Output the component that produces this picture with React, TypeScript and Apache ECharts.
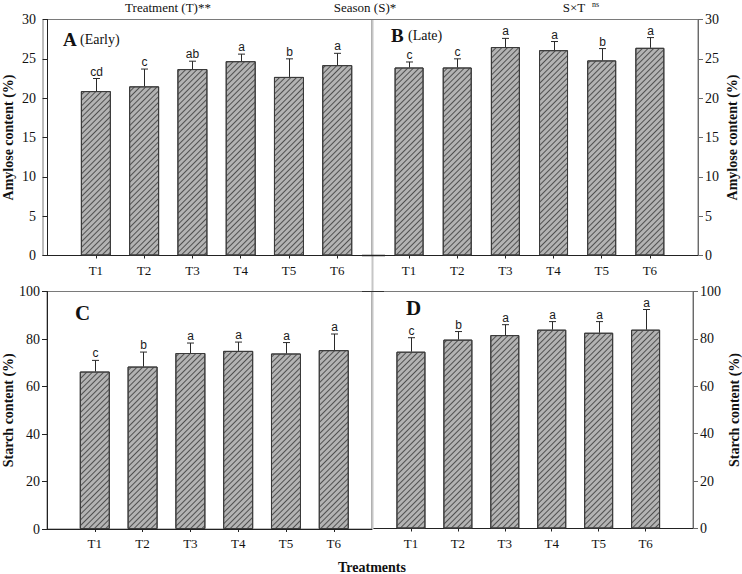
import React, { useEffect, useRef } from "react";
import * as echarts from "echarts";

const categories = ["T1", "T2", "T3", "T4", "T5", "T6"];
const xPos = [1, 2, 3, 4, 5, 6];

// Amylose content (%) – Early season (A)
const amyloseEarly = [20.9, 21.5, 23.7, 24.7, 22.7, 24.2];
const amyloseEarlySd = [1.6, 2.2, 1.0, 0.9, 2.3, 1.5];
const amyloseEarlyLetters = ["cd", "c", "ab", "a", "b", "a"];

// Amylose content (%) – Late season (B)
const amyloseLate = [23.9, 23.9, 26.5, 26.1, 24.8, 26.4];
const amyloseLateSd = [0.7, 1.1, 1.1, 1.1, 1.5, 1.3];
const amyloseLateLetters = ["c", "c", "a", "a", "b", "a"];

// Starch content (%) – Early season (C)
const starchEarly = [66.3, 68.4, 74.1, 75.0, 73.9, 75.3];
const starchEarlySd = [4.7, 6.1, 4.2, 3.7, 4.6, 6.8];
const starchEarlyLetters = ["c", "b", "a", "a", "a", "a"];

// Starch content (%) – Late season (D)
const starchLate = [74.6, 79.7, 81.6, 83.9, 82.6, 83.9];
const starchLateSd = [5.9, 3.4, 4.4, 3.4, 4.7, 8.5];
const starchLateLetters = ["c", "b", "a", "a", "a", "a"];

const amyloseTicks = [0, 30, 5];
const starchTicks = [0, 100, 20];

const SERIF = "'Liberation Serif', 'Times New Roman', serif";
const SANS = "'Liberation Sans', Arial, sans-serif";

export default function App() {
  const ref = useRef<HTMLDivElement>(null);

  useEffect(() => {
    if (!ref.current) return;
    const chart = echarts.init(ref.current, undefined, { renderer: "svg" });

    const panels = [
      { grid: { left: 42, top: 19.5, width: 330, height: 236 }, xmin: -0.095, xmax: 6.72, pos: "left", ticks: amyloseTicks, name: "Amylose content (%)", nameGap: 28, means: amyloseEarly, sd: amyloseEarlySd, letters: amyloseEarlyLetters, barWidth: 30 },
      { grid: { left: 372, top: 19.5, width: 326, height: 236 }, xmin: 0.23, xmax: 7.0, pos: "right", ticks: amyloseTicks, name: "Amylose content (%)", nameGap: 27, means: amyloseLate, sd: amyloseLateSd, letters: amyloseLateLetters, barWidth: 29 },
      { grid: { left: 40, top: 291.5, width: 332, height: 237.5 }, xmin: 0, xmax: 6.8, pos: "left", ticks: starchTicks, name: "Starch content (%)", nameGap: 32, means: starchEarly, sd: starchEarlySd, letters: starchEarlyLetters, barWidth: 30 },
      { grid: { left: 372, top: 291.5, width: 331, height: 237 }, xmin: 0.17, xmax: 7.01, pos: "right", ticks: starchTicks, name: "Starch content (%)", nameGap: 34, means: starchLate, sd: starchLateSd, letters: starchLateLetters, barWidth: 29 },
    ];

    const grids = panels.map((p) => ({
      ...p.grid,
      show: true,
      borderColor: "#7a7a7a",
      borderWidth: 1,
      backgroundColor: "transparent",
      containLabel: false,
    }));

    const xAxes = panels.map((p, i) => ({
      type: "value",
      gridIndex: i,
      min: p.xmin,
      max: p.xmax,
      axisLine: { show: true, onZero: false, lineStyle: { color: "#222", width: 1 } },
      axisTick: { show: true, customValues: xPos, length: 3, lineStyle: { color: "#222" } },
      axisLabel: {
        customValues: xPos,
        formatter: (v: number) => categories[Math.round(v) - 1] ?? "",
        color: "#111",
        fontFamily: SERIF,
        fontSize: 13,
        margin: 8,
      },
      splitLine: { show: false },
    }));

    const yAxes = panels.map((p, i) => ({
      type: "value",
      gridIndex: i,
      position: p.pos,
      min: p.ticks[0],
      max: p.ticks[1],
      interval: p.ticks[2],
      axisLine: { show: true, lineStyle: { color: p.pos === "left" ? "#222" : "#6a6a6a", width: 1 } },
      axisTick: { show: true, length: 5, lineStyle: { color: p.pos === "left" ? "#222" : "#6a6a6a" } },
      axisLabel: { color: "#111", fontFamily: SERIF, fontSize: 14, margin: 7 },
      splitLine: { show: false },
      name: p.name,
      nameLocation: "middle",
      nameGap: p.nameGap,
      nameRotate: 90,
      nameTextStyle: { fontFamily: SERIF, fontWeight: "bold", fontSize: 14, color: "#111" },
    }));

    const series: any[] = [];
    panels.forEach((p, i) => {
      series.push({
        type: "bar",
        xAxisIndex: i,
        yAxisIndex: i,
        barWidth: p.barWidth,
        data: p.means.map((m, k) => [xPos[k], m]),
        itemStyle: {
          color: "#b3b3b3",
          borderColor: "#3a3a3a",
          borderWidth: 1,
          decal: {
            symbol: "rect",
            symbolSize: 1,
            dashArrayX: [1, 0],
            dashArrayY: [0.9, 2.1],
            rotation: -Math.PI / 4,
            color: "#505050",
          },
        },
        z: 2,
      });
      const letters = p.letters;
      series.push({
        type: "custom",
        xAxisIndex: i,
        yAxisIndex: i,
        z: 5,
        data: p.means.map((m, k) => [xPos[k], m, m + p.sd[k]]),
        renderItem: (params: any, api: any) => {
          const x = api.value(0);
          const m = api.value(1);
          const t = api.value(2);
          const p0 = api.coord([x, m]);
          const p1 = api.coord([x, t]);
          const cx = Math.round(p0[0]) + 0.5;
          return {
            type: "group",
            children: [
              { type: "line", shape: { x1: cx, y1: p0[1], x2: cx, y2: p1[1] }, style: { stroke: "#2a2a2a", lineWidth: 1 } },
              { type: "line", shape: { x1: cx - 3.5, y1: p1[1], x2: cx + 3.5, y2: p1[1] }, style: { stroke: "#2a2a2a", lineWidth: 1 } },
              {
                type: "text",
                x: cx,
                y: p1[1] - 1,
                style: {
                  text: letters[params.dataIndex],
                  fill: "#1a1a1a",
                  font: `12px ${SANS}`,
                  textAlign: "center",
                  textVerticalAlign: "bottom",
                  align: "center",
                  verticalAlign: "bottom",
                },
              },
            ],
          };
        },
      });
    });

    const txt = (text: string, x: number, y: number, size: number, opts: any = {}) => ({
      type: "text",
      x,
      y,
      z: 50,
      style: {
        text,
        fill: "#111",
        font: `${opts.bold ? "bold " : ""}${size}px ${SERIF}`,
        textAlign: opts.align ?? "left",
        textVerticalAlign: "middle",
        align: opts.align ?? "left",
        verticalAlign: "middle",
      },
    });

    const graphic: any[] = [
      { type: "line", z: 40, shape: { x1: 372.5, y1: 20, x2: 372.5, y2: 529 }, style: { stroke: "#c6c6c6", lineWidth: 2 } },
      { type: "line", z: 41, shape: { x1: 362, y1: 291.5, x2: 384, y2: 291.5 }, style: { stroke: "#333", lineWidth: 1 } },
      { type: "line", z: 41, shape: { x1: 362, y1: 255.5, x2: 385, y2: 255.5 }, style: { stroke: "#222", lineWidth: 1.5 } },
      txt("Treatment (T)**", 168, 7, 13, { align: "center" }),
      txt("Season (S)*", 365, 7, 13, { align: "center" }),
      txt("S×T", 574, 7, 13, { align: "center" }),
      txt("ns", 592, 4, 8, { align: "left" }),
      txt("A", 63, 39, 19, { bold: true }),
      txt("(Early)", 80, 39, 14),
      txt("B", 391, 35, 19, { bold: true }),
      txt("(Late)", 408, 35, 14),
      txt("C", 75, 313, 21, { bold: true }),
      txt("D", 406, 308, 21, { bold: true }),
      txt("Treatments", 372, 567, 14, { bold: true, align: "center" }),
    ];

    chart.setOption({
      animation: false,
      backgroundColor: "#ffffff",
      aria: { enabled: true, decal: { show: true } },
      grid: grids,
      xAxis: xAxes,
      yAxis: yAxes,
      series,
      graphic,
    });

    return () => chart.dispose();
  }, []);

  return <div ref={ref} style={{ position: "fixed", left: 0, top: 0, width: 742, height: 574 }} />;
}
